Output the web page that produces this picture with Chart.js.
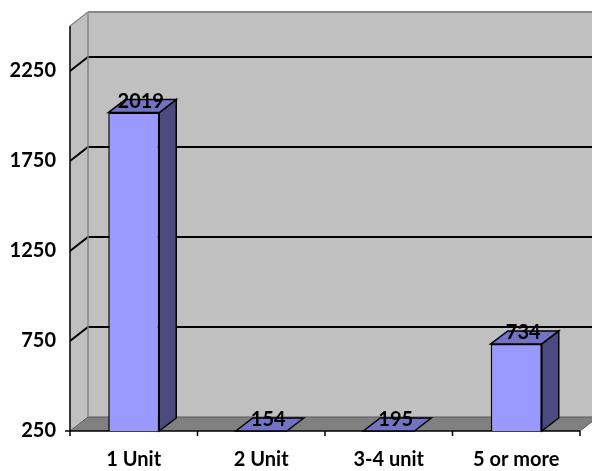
<!DOCTYPE html>
<html>
<head>
<meta charset="utf-8">
<script src="https://cdn.jsdelivr.net/npm/chart.js@4/dist/chart.umd.min.js"></script>
<style>
  html, body { margin: 0; padding: 0; background: #ffffff; }
  #wrap { width: 592px; height: 471px; }
</style>
</head>
<body>
<div id="wrap"><canvas id="chart"></canvas></div>
<script>
// Housing units by building size
const categories = ['1 Unit', '2 Unit', '3-4 unit', '5 or more'];
const unitCounts = [2019, 154, 195, 734];
const yTickValues = [250, 750, 1250, 1750, 2250];
const yMin = 250;
const yMax = 2500;

// depth offsets for the 3D box and the columns
const WALL_DX = 18, WALL_DY = -14;
const BAR_DX = 17, BAR_DY = -13;

const FONT = { family: 'Lato, "Liberation Sans", sans-serif', size: 20, weight: 'bold' };

function poly(ctx, pts, fill, stroke, lw) {
  ctx.beginPath();
  ctx.moveTo(pts[0][0], pts[0][1]);
  for (let i = 1; i < pts.length; i++) ctx.lineTo(pts[i][0], pts[i][1]);
  ctx.closePath();
  if (fill) { ctx.fillStyle = fill; ctx.fill(); }
  if (stroke) { ctx.strokeStyle = stroke; ctx.lineWidth = lw || 1; ctx.stroke(); }
}

function line(ctx, x1, y1, x2, y2, color, lw) {
  ctx.beginPath();
  ctx.moveTo(x1, y1);
  ctx.lineTo(x2, y2);
  ctx.strokeStyle = color;
  ctx.lineWidth = lw;
  ctx.stroke();
}

// walls, floor and gridlines behind the columns
const box3d = {
  id: 'box3d',
  beforeDatasetsDraw(chart) {
    const { ctx, chartArea: a, scales: { y } } = chart;
    const L = a.left, R = a.right, T = a.top, B = a.bottom;
    ctx.save();
    // back wall
    ctx.fillStyle = '#c0c0c0';
    ctx.fillRect(L + WALL_DX, T + WALL_DY, R - L, B - T);
    // left wall
    poly(ctx, [[L, T], [L + WALL_DX, T + WALL_DY], [L + WALL_DX, B + WALL_DY], [L, B]], '#c0c0c0');
    // floor
    poly(ctx, [[L, B], [L + WALL_DX, B + WALL_DY], [R + WALL_DX, B + WALL_DY], [R, B]], '#808080');

    // gridlines along left wall and back wall
    yTickValues.forEach(v => {
      const py = y.getPixelForValue(v);
      if (v === yMin) {
        line(ctx, L, py, L + WALL_DX, py + WALL_DY, '#5a5a5a', 1);
        line(ctx, L + WALL_DX, py + WALL_DY, R + WALL_DX, py + WALL_DY, '#5a5a5a', 1);
      } else {
        ctx.beginPath();
        ctx.moveTo(L, py);
        ctx.lineTo(L + WALL_DX, py + WALL_DY);
        ctx.lineTo(R + WALL_DX, py + WALL_DY);
        ctx.strokeStyle = '#000000';
        ctx.lineWidth = 2;
        ctx.stroke();
      }
    });

    // wall edges
    line(ctx, L + WALL_DX, T + WALL_DY, R + WALL_DX, T + WALL_DY, '#888888', 2);
    line(ctx, L, T, L + WALL_DX, T + WALL_DY, '#888888', 1.5);
    line(ctx, L + WALL_DX, T + WALL_DY, L + WALL_DX, B + WALL_DY, '#888888', 1.5);
    line(ctx, R, B, R + WALL_DX, B + WALL_DY, '#5a5a5a', 1);

    // front axes
    line(ctx, L, T, L, B, '#000000', 1.5);
    line(ctx, L - 5, B, R, B, '#000000', 1.5);
    const n = categories.length;
    for (let i = 0; i <= n; i++) {
      const px = L + (R - L) * i / n;
      line(ctx, px, B, px, B + 5, '#000000', 1.5);
    }
    ctx.restore();
  },
  afterDatasetsDraw(chart) {
    const { ctx, chartArea: a, scales: { y } } = chart;
    const B = a.bottom;
    const meta = chart.getDatasetMeta(0);
    ctx.save();
    ctx.lineJoin = 'miter';
    meta.data.forEach((bar, i) => {
      const v = unitCounts[i];
      const yTop = y.getPixelForValue(Math.max(v, yMin));
      const left = bar.x - bar.width / 2;
      const right = bar.x + bar.width / 2;
      if (yTop < B - 0.5) {
        // side face
        poly(ctx, [[right, yTop], [right + BAR_DX, yTop + BAR_DY], [right + BAR_DX, B + BAR_DY], [right, B]],
          '#4b4b80', '#000000', 1.5);
      }
      // top face
      poly(ctx, [[left, yTop], [left + BAR_DX, yTop + BAR_DY], [right + BAR_DX, yTop + BAR_DY], [right, yTop]],
        '#7373c6', '#000000', 1.5);
      // value label
      ctx.font = `${FONT.weight} ${FONT.size}px ${FONT.family}`;
      ctx.fillStyle = '#000000';
      ctx.textAlign = 'center';
      ctx.textBaseline = 'middle';
      ctx.fillText(String(v), bar.x + 7, yTop - 11.5);
    });
    ctx.restore();
  }
};

new Chart(document.getElementById('chart'), {
  type: 'bar',
  data: {
    labels: categories,
    datasets: [{
      data: unitCounts,
      backgroundColor: c => (c.raw < yMin ? 'rgba(0,0,0,0)' : '#9999ff'),
      borderColor: c => (c.raw < yMin ? 'rgba(0,0,0,0)' : '#000000'),
      borderWidth: 1.5,
      borderSkipped: false,
      categoryPercentage: 1.0,
      barPercentage: 0.4
    }]
  },
  options: {
    responsive: true,
    maintainAspectRatio: false,
    animation: false,
    devicePixelRatio: 1,
    layout: { padding: { top: 22, right: 12, left: 0, bottom: 0 } },
    plugins: { legend: { display: false }, tooltip: { enabled: false } },
    scales: {
      x: {
        grid: { display: false, drawTicks: false },
        border: { display: false },
        ticks: { color: '#000000', font: FONT, padding: 17 },
        afterFit(s) { s.height = 40; }
      },
      y: {
        min: yMin,
        max: yMax,
        afterBuildTicks(s) { s.ticks = yTickValues.map(v => ({ value: v })); },
        grid: { display: false, drawTicks: false },
        border: { display: false },
        ticks: { color: '#000000', font: FONT, padding: 14, callback: v => String(v) },
        afterFit(s) { s.width = 70; }
      }
    }
  },
  plugins: [box3d]
});
</script>
</body>
</html>
